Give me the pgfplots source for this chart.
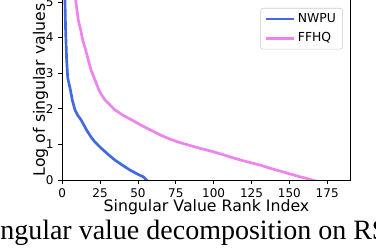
\documentclass[border=0pt]{standalone}
\usepackage{pgfplots}
\pgfplotsset{compat=1.18}
\usepackage{fontspec}
\setmainfont{DejaVu Sans}
\newfontfamily\capfont{Liberation Serif}
\definecolor{royalblue}{RGB}{65,105,225}
\definecolor{mviolet}{RGB}{238,130,238}
\definecolor{legframe}{RGB}{204,204,204}
\begin{document}
\begin{tikzpicture}
\begin{axis}[
  scale only axis,
  width=216.3pt, height=135pt,
  xmin=0, xmax=190.5, ymin=0, ymax=5.056,
  axis x line*=bottom, axis y line*=box,
  ytick pos=left,
  axis line style={black, line width=0.6pt},
  tick align=outside,
  major tick length=3pt,
  tick style={black, line width=0.6pt},
  xtick={0,25,50,75,100,125,150,175},
  ytick={0,1,2,3,4,5},
  /pgf/number format/assume math mode=true,
  ticklabel style={font=\fontsize{9}{10}\selectfont},
  xlabel={Singular Value Rank Index},
  ylabel={Log of singular values},
  label style={font=\fontsize{11.8}{13}\selectfont},
  xlabel style={at={(rel axis cs:0.5,0)}, anchor=base, yshift=-24pt},
  ylabel style={at={(rel axis cs:0,0.5)}, rotate=0, anchor=base, yshift=13pt},
  legend style={at={(rel axis cs:1,1)}, anchor=north east, xshift=-5.8pt, yshift=-6pt,
    draw=legframe, rounded corners=2pt, fill=white,
    font=\fontsize{9.3}{11}\selectfont, inner xsep=3pt, inner ysep=2pt,
    cells={anchor=west}, row sep=2pt},
  legend image code/.code={\draw[#1] (0pt,0pt) -- (21pt,0pt);},
]
\addplot[royalblue, line width=2pt] coordinates {
(0,7.5) (1,6.0) (1.8,5.05) (2.2,4.21) (2.9,3.37) (3.6,2.87) (4.5,2.70) (5.3,2.55)
(6.6,2.25) (8.4,1.97) (10.2,1.82) (12.4,1.69) (14.2,1.55) (16.1,1.40) (18.2,1.26)
(20.5,1.12) (23.6,0.98) (27.1,0.84) (30.8,0.70) (34.8,0.56) (39.6,0.42) (44.7,0.28)
(49.5,0.17) (53.5,0.09) (55.7,0.0) (58,-0.09)
};
\addlegendentry{NWPU}
\addplot[mviolet, line width=2pt] coordinates {
(0,9.0) (5,6.6) (8.85,5.05) (10.6,4.49) (12.2,4.21) (13.5,3.93) (15.5,3.65) (17.2,3.37)
(19.0,3.09) (21.6,2.81) (24.2,2.53) (26.0,2.39) (28.2,2.25) (34.8,1.97) (40,1.82)
(45.8,1.69) (52,1.54) (59,1.39) (65,1.26) (71.1,1.15) (77,1.06) (84.3,0.97) (91,0.89)
(97.5,0.82) (104,0.74) (110.7,0.65) (117,0.57) (124.0,0.49) (130.6,0.42) (137.2,0.33)
(144,0.25) (150.4,0.17) (157.0,0.09) (161,0.05) (164.7,0.0) (170,-0.06)
};
\addlegendentry{FFHQ}
\coordinate (bl) at (rel axis cs:0,0);
\coordinate (tr) at (rel axis cs:1,1);
\end{axis}
\node[anchor=base west, inner sep=0pt, font=\capfont\fontsize{21}{21}\selectfont] at ([shift={(-46.7pt,-45pt)}]bl) {ngular value decomposition on RS};
\pgfresetboundingbox
\path ([shift={(-46.7pt,-52.5pt)}]bl) rectangle ([shift={(19pt,0pt)}]tr);
\end{tikzpicture}
\end{document}
